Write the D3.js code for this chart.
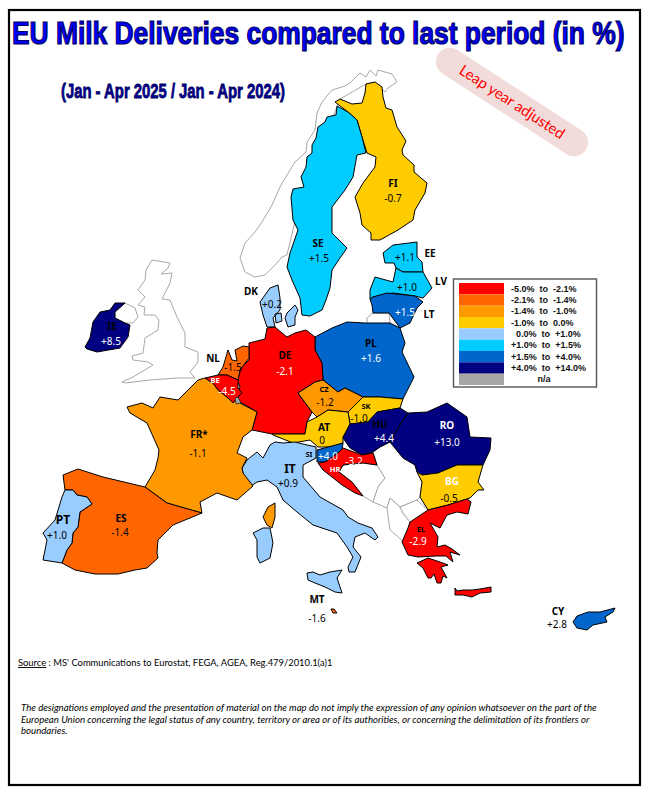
<!DOCTYPE html>
<html>
<head>
<meta charset="utf-8">
<script src="https://cdn.jsdelivr.net/npm/d3@7"></script>
<style>
  html, body { margin: 0; padding: 0; background: #fff; }
  svg { display: block; }
  text { font-family: "Noto Sans", "Liberation Sans", sans-serif; }
</style>
</head>
<body>
<svg id="map" width="649" height="794"></svg>
<script>
// milk deliveries
const countries = ["FI","SE","EE","LV","LT","PL","DK","DE","CZ","SK","AT","HU","SI","HR","RO","BG","EL","IT","MT","CY","FR","ES","PT","IE","NL","BE"];
const valueLabels = ["-0.7","+1.5","+1.1","+1.0","+1.5","+1.6","+0.2","-2.1","-1.2","-1.0","0","+4.4","+4.0","-3.2","+13.0","-0.5","-2.9","+0.9","-1.6","+2.8","-1.1","-1.4","+1.0","+8.5","-1.5","-4.5"];
const classes = [3,5,5,5,6,6,4,0,2,3,3,7,6,0,7,3,0,4,1,6,2,1,4,7,1,0];

const legendLabels = ["-5.0%  to  -2.1%","-2.1%  to  -1.4%","-1.4%  to  -1.0%","-1.0%  to  0.0%","0.0%  to  +1.0%","+1.0%  to  +1.5%","+1.5%  to  +4.0%","+4.0%  to  +14.0%","n/a"];
const legendColors = ["#ff0000","#ff6600","#ff9900","#ffcc00","#99ccff","#00ccff","#0066cc","#000080","#a6a6a6"];

// outlines, in map units
const fiOutline = [[335,102],[340,99],[352,104],[362,103],[365,93],[366,84],[375,82],[382,87],[383,97],[386,108],[392,110],[397,127],[406,141],[402,150],[403,155],[414,165],[414,172],[427,183],[425,193],[415,210],[413,220],[398,230],[380,240],[371,240],[371,233],[362,225],[360,213],[355,197],[363,183],[375,167],[376,157],[367,153],[362,137],[357,120],[348,112]];
const seOutline = [[337,106],[336,115],[327,117],[325,122],[318,127],[316,138],[312,145],[312,153],[307,157],[306,167],[301,177],[304,187],[293,189],[291,197],[293,220],[298,230],[290,253],[287,267],[292,280],[300,298],[302,315],[310,316],[322,310],[326,300],[330,288],[332,270],[340,258],[347,248],[332,233],[332,207],[345,190],[353,177],[357,155],[366,153],[362,137],[357,120],[348,112]];
const eeOutline = [[383,253],[393,245],[417,242],[417,257],[422,262],[423,272],[403,272],[396,268],[394,263],[385,263]];
const lvOutline = [[375,277],[393,282],[396,268],[403,272],[423,272],[432,288],[423,298],[415,296],[393,293],[373,297],[370,299],[370,290]];
const ltOutline = [[370,299],[373,297],[387,293],[415,296],[423,302],[417,308],[410,323],[400,328],[389,313],[373,313],[372,305]];
const plOutline = [[315,337],[332,328],[347,322],[365,323],[390,323],[400,328],[405,343],[402,352],[414,377],[403,399],[380,397],[363,397],[345,388],[338,392],[323,380],[322,363],[315,350]];
const dkJutland = [[278,285],[270,288],[260,302],[263,315],[267,327],[275,327],[273,318],[280,310],[280,298]];
const dkZealand = [[287,313],[295,305],[298,310],[295,317],[295,325],[288,327],[285,318]];
const dkFunen = [[275,314],[281,313],[282,321],[276,323]];
const deOutline = [[267,328],[275,327],[282,333],[287,337],[295,333],[306,330],[315,337],[315,350],[322,363],[323,380],[315,382],[298,393],[312,412],[307,422],[305,434],[272,434],[252,430],[257,412],[240,402],[237,395],[240,387],[237,380],[242,367],[249,360],[249,343],[265,339]];
const czOutline = [[298,393],[315,382],[323,380],[338,392],[345,388],[363,397],[348,412],[328,410],[317,417],[312,412]];
const skOutline = [[363,397],[380,397],[403,399],[400,408],[377,412],[368,422],[350,424],[348,412]];
const atOutline = [[317,417],[328,410],[348,412],[350,424],[343,437],[343,443],[337,447],[318,447],[310,440],[293,443],[273,435],[272,434],[305,434],[307,422]];
const huOutline = [[343,438],[350,424],[368,422],[377,412],[400,408],[408,413],[398,428],[390,442],[380,447],[373,452],[362,455],[350,448]];
const siOutline = [[317,450],[343,443],[342,450],[338,453],[325,462],[317,462]];
const hrOutline = [[343,448],[362,455],[373,453],[377,465],[363,463],[343,465],[339,472],[352,482],[363,496],[355,493],[342,485],[332,477],[323,470],[318,463],[325,462],[338,453]];
const roOutline = [[408,413],[427,412],[447,403],[467,417],[470,437],[491,438],[490,450],[483,465],[457,465],[438,473],[422,475],[417,472],[415,465],[403,458],[390,442],[398,428]];
const bgOutline = [[417,472],[422,475],[438,473],[457,465],[483,465],[478,482],[484,490],[478,490],[470,498],[448,505],[428,510],[420,497],[422,482]];
const elMainland = [[428,510],[448,505],[467,499],[471,502],[468,514],[457,512],[447,515],[440,528],[430,523],[438,537],[437,547],[445,545],[452,549],[460,555],[450,552],[453,562],[446,556],[436,556],[418,557],[408,555],[402,542],[408,528],[410,522]];
const elMorea = [[417,563],[428,558],[440,562],[448,565],[441,567],[447,578],[443,576],[441,583],[437,583],[434,574],[431,578],[428,578],[423,568]];
const elCrete = [[455,588],[457,591],[463,590],[472,590],[480,589],[491,587],[491,592],[480,593],[472,597],[463,595],[455,595]];
const itMainland = [[242,468],[247,460],[257,452],[263,458],[270,445],[275,442],[283,443],[295,442],[307,445],[316,447],[316,458],[303,465],[303,477],[320,497],[343,510],[348,517],[358,523],[372,528],[378,537],[375,540],[365,533],[355,537],[353,547],[361,557],[355,572],[349,572],[348,567],[353,557],[347,547],[337,533],[313,525],[297,512],[283,500],[277,487],[267,480],[257,482],[248,488],[245,480],[243,473]];
const itSicily = [[307,573],[313,572],[320,575],[330,572],[342,570],[337,578],[342,593],[335,592],[325,587],[315,583],[308,580]];
const itSardinia = [[253,533],[263,528],[270,528],[273,543],[270,558],[260,563],[257,557],[257,540]];
const mtOutline = [[331,609],[334,609],[337,613],[333,613]];
const cyOutline = [[573,622],[577,616],[588,612],[600,612],[615,608],[613,612],[605,617],[607,622],[593,625],[587,630],[577,628]];
const frMainland = [[127,407],[142,403],[153,408],[160,397],[178,400],[198,380],[205,378],[213,383],[218,390],[227,397],[233,403],[237,398],[240,403],[257,412],[252,430],[243,437],[237,453],[247,458],[242,468],[243,473],[253,486],[237,500],[217,493],[200,502],[202,513],[180,507],[167,503],[145,487],[155,470],[158,458],[159,450],[147,423],[130,413]];
const frCorsica = [[263,517],[268,507],[275,503],[275,517],[272,528],[267,525]];
const esOutline = [[63,475],[78,469],[103,477],[145,487],[167,503],[202,513],[173,525],[158,540],[157,553],[158,558],[147,568],[135,570],[118,574],[95,574],[75,570],[62,563],[67,550],[72,543],[73,533],[78,527],[80,512],[92,504],[87,497],[77,495],[73,490],[65,490]];
const ptOutline = [[65,490],[73,490],[77,495],[87,497],[92,504],[80,512],[78,527],[73,533],[72,543],[67,550],[62,563],[43,560],[47,540],[43,533],[55,520],[62,497]];
const ieOutline = [[85,347],[90,338],[93,322],[100,312],[110,310],[115,303],[125,303],[115,312],[115,318],[125,323],[130,325],[128,337],[120,348],[97,352],[87,349]];
const nlOutline = [[218,375],[223,367],[228,350],[232,360],[237,361],[235,350],[243,346],[249,347],[249,358],[240,370],[238,380],[227,375]];
const beOutline = [[205,378],[218,375],[227,375],[238,380],[238,388],[242,393],[237,398],[233,403],[227,397],[218,390],[213,383]];

// the countries outside the data, grey outline only
const gbOutline = [[152,260],[170,263],[168,268],[161,274],[172,273],[170,283],[162,299],[170,300],[177,317],[185,333],[185,347],[198,352],[198,362],[190,372],[195,378],[177,378],[150,380],[125,383],[122,382],[133,377],[153,365],[148,362],[133,360],[132,356],[143,353],[145,338],[158,330],[159,320],[155,315],[144,315],[145,307],[138,305],[145,297],[138,290],[145,280],[146,270]];
const niOutline = [[115,312],[125,303],[135,308],[138,317],[133,323],[125,323],[115,318]];
const noOutline = [[255,277],[245,272],[240,258],[245,243],[255,232],[262,222],[272,205],[280,187],[287,175],[295,162],[306,152],[307,142],[315,130],[317,113],[322,102],[332,90],[345,86],[350,83],[360,73],[366,77],[370,70],[376,76],[378,70],[392,74],[397,82],[388,88],[385,92],[375,82],[366,84],[340,99],[320,150],[300,200],[287,255],[282,257],[275,265],[265,275]];
const kgOutline = [[373,313],[389,313],[390,323],[367,325],[367,318]];
const luOutline = [[235,398],[238,397],[241,403],[236,404]];
const baOutline = [[363,463],[377,465],[385,478],[378,487],[373,502],[363,496],[352,482],[339,472],[343,465]];
const rsOutline = [[377,465],[373,452],[380,447],[390,442],[403,458],[415,465],[417,472],[422,482],[420,497],[417,500],[400,507],[390,498],[387,508],[373,502],[378,487],[385,478]];
const alOutline = [[387,508],[390,498],[400,507],[403,513],[410,522],[407,532],[403,541],[390,530]];
const mkOutline = [[400,507],[417,500],[428,510],[417,522],[410,522],[403,513]];

const neighbours = [gbOutline, niOutline, noOutline, kgOutline, baOutline, rsOutline, alOutline, mkOutline];

const outlines = {
  FI:[fiOutline], SE:[seOutline], EE:[eeOutline], LV:[lvOutline], LT:[ltOutline], PL:[plOutline],
  DK:[dkJutland,dkZealand,dkFunen], DE:[deOutline], CZ:[czOutline], SK:[skOutline], AT:[atOutline],
  HU:[huOutline], SI:[siOutline], HR:[hrOutline], RO:[roOutline], BG:[bgOutline],
  EL:[elMainland,elMorea,elCrete], IT:[itMainland,itSicily,itSardinia], MT:[mtOutline], CY:[cyOutline],
  FR:[frMainland,frCorsica], ES:[esOutline], PT:[ptOutline], IE:[ieOutline], NL:[nlOutline], BE:[beOutline]
};

const svg = d3.select("#map");
const path = d3.geoPath(d3.geoIdentity());
const polygon = rings => ({type:"MultiPolygon", coordinates: rings.map(r => [r.concat([r[0]])])});

// frame
svg.append("rect")
  .attr("x",9).attr("y",10).attr("width",631).attr("height",775)
  .attr("fill","#fff").attr("stroke","#000").attr("stroke-width",2.2);

// map
svg.append("g").selectAll("path")
  .data(neighbours)
  .join("path")
  .attr("d", d => path(polygon([d])))
  .attr("fill","#fff").attr("stroke","#a8a8a8").attr("stroke-width",1);

svg.append("g").selectAll("path")
  .data(countries)
  .join("path")
  .attr("d", d => path(polygon(outlines[d])))
  .attr("fill", (d,i) => legendColors[classes[i]])
  .attr("stroke","#000").attr("stroke-width",1).attr("stroke-linejoin","round");

svg.append("path")
  .attr("d", path(polygon([luOutline])))
  .attr("fill",legendColors[8]).attr("stroke","#000").attr("stroke-width",0.6);

// labels
const codeAt = {
  FI:[393,187],SE:[318,247],EE:[430,257],LV:[441,285],LT:[429,318],PL:[371,347],DK:[251,295],DE:[285,359],
  CZ:[324,392],SK:[366,409],AT:[324,431],HU:[380,428],SI:[309,457],HR:[335,472],RO:[447,429],BG:[452,485],
  EL:[421,532],IT:[290,473],MT:[317,603],CY:[558,615],FR:[199,438],ES:[121,522],PT:[63,524],IE:[112,330],
  NL:[213,362],BE:[215,383]
};
const valueAt = {
  FI:[393,202],SE:[319,262],EE:[405,261],LV:[407,291],LT:[405,316],PL:[371,362],DK:[272,308],DE:[285,375],
  CZ:[325,406],SK:[359,422],AT:[322,444],HU:[384,442],SI:[328,460],HR:[354,465],RO:[447,446],BG:[449,502],
  EL:[418,545],IT:[288,487],MT:[317,622],CY:[557,628],FR:[198,457],ES:[120,536],PT:[57,539],IE:[111,345],
  NL:[233,371],BE:[227,395]
};
const whiteCodes = ["HR","RO","BG","BE"];
const whiteValues = ["LT","PL","DE","HU","SI","HR","RO","EL","IE","BE"];
const bigCodes = ["IT","PT"];
const smallCodes = ["BE","HR","SK","SI","CZ","EL"];

svg.append("g").selectAll("text")
  .data(countries)
  .join("text")
  .attr("x", d => codeAt[d][0]).attr("y", d => codeAt[d][1])
  .attr("text-anchor","middle")
  .attr("font-weight",700)
  .attr("font-size", d => bigCodes.includes(d) ? 12 : smallCodes.includes(d) ? 7.5 : 10)
  .attr("fill", d => whiteCodes.includes(d) ? "#fff" : "#000")
  .text(d => d === "FR" ? "FR*" : d);

svg.append("g").selectAll("text")
  .data(countries)
  .join("text")
  .attr("x", d => valueAt[d][0]).attr("y", d => valueAt[d][1])
  .attr("text-anchor","middle")
  .attr("font-size",10)
  .attr("fill", d => whiteValues.includes(d) ? "#fff" : "#000")
  .text((d,i) => valueLabels[i]);

// legend
const legendRow = d3.scaleBand().domain(d3.range(legendLabels.length)).range([283,385]);
const legend = svg.append("g");
legend.append("rect")
  .attr("x",453.5).attr("y",279).attr("width",143).attr("height",108)
  .attr("fill","#fff").attr("stroke","#555").attr("stroke-width",1.4);
legend.selectAll(".swatch")
  .data(legendColors)
  .join("rect")
  .attr("class","swatch")
  .attr("x",459).attr("width",45)
  .attr("y",(d,i) => legendRow(i)).attr("height",legendRow.bandwidth())
  .attr("fill",d => d);
legend.selectAll(".entry")
  .data(legendLabels)
  .join("text")
  .attr("class","entry")
  .attr("x",d => d === "n/a" ? 544 : d.startsWith("0.0") ? 516 : 511)
  .attr("y",(d,i) => legendRow(i) + 8.8)
  .attr("text-anchor",d => d === "n/a" ? "middle" : "start")
  .style("white-space","pre")
  .style("font-family","'Liberation Sans'")
  .attr("font-size",9).attr("font-weight",700)
  .attr("fill","#111")
  .text(d => d);

// titles, squeezed sideways to the width they have in the picture
const fitWidth = (sel, x, y, width) => {
  const natural = sel.node().getComputedTextLength();
  sel.attr("transform",`translate(${x},${y}) scale(${width / natural},1)`);
};

const title = svg.append("text")
  .style("font-family","'Liberation Sans'")
  .attr("font-size",31).attr("font-weight",700)
  .attr("fill","#0000ff").attr("stroke","#00005a").attr("stroke-width",1.2)
  .text("EU Milk Deliveries compared to last period (in %)");
fitWidth(title,12,44,613);

const subtitle = svg.append("text")
  .style("font-family","'Liberation Sans'")
  .attr("font-size",21).attr("font-weight",700)
  .attr("fill","#000099").attr("stroke","#00005a").attr("stroke-width",0.8)
  .text("(Jan - Apr 2025 / Jan - Apr 2024)");
fitWidth(subtitle,61,98,224);

// leap year note
const note = svg.append("g").attr("transform","translate(512,102) rotate(33)");
note.append("rect")
  .attr("x",-88).attr("y",-14).attr("width",176).attr("height",28).attr("rx",14)
  .attr("fill","#f2dcdb");
note.append("text")
  .attr("x",0).attr("y",5).attr("text-anchor","middle")
  .style("font-family","Lato")
  .attr("font-size",15).attr("fill","#ff0000")
  .text("Leap year adjusted");

// source and disclaimer
const source = svg.append("text")
  .attr("x",18).attr("y",666)
  .style("font-family","Lato")
  .attr("font-size",9.4).attr("fill","#000");
source.append("tspan").attr("text-decoration","underline").text("Source");
source.append("tspan").text(" : MS' Communications to Eurostat, FEGA, AGEA, Reg.479/2010.1(a)1");

const disclaimer = [
  "The designations employed and the presentation of material on the map do not imply the expression of any opinion whatsoever on the part of the",
  "European Union concerning the legal status of any country, territory or area or of its authorities, or concerning the delimitation of its frontiers or",
  "boundaries."
];
svg.append("g").selectAll("text")
  .data(disclaimer)
  .join("text")
  .attr("x",21).attr("y",(d,i) => 711 + i * 11.5)
  .style("font-family","Lato").style("font-style","italic")
  .attr("font-size",9.65).attr("fill","#000")
  .text(d => d);
</script>
</body>
</html>
